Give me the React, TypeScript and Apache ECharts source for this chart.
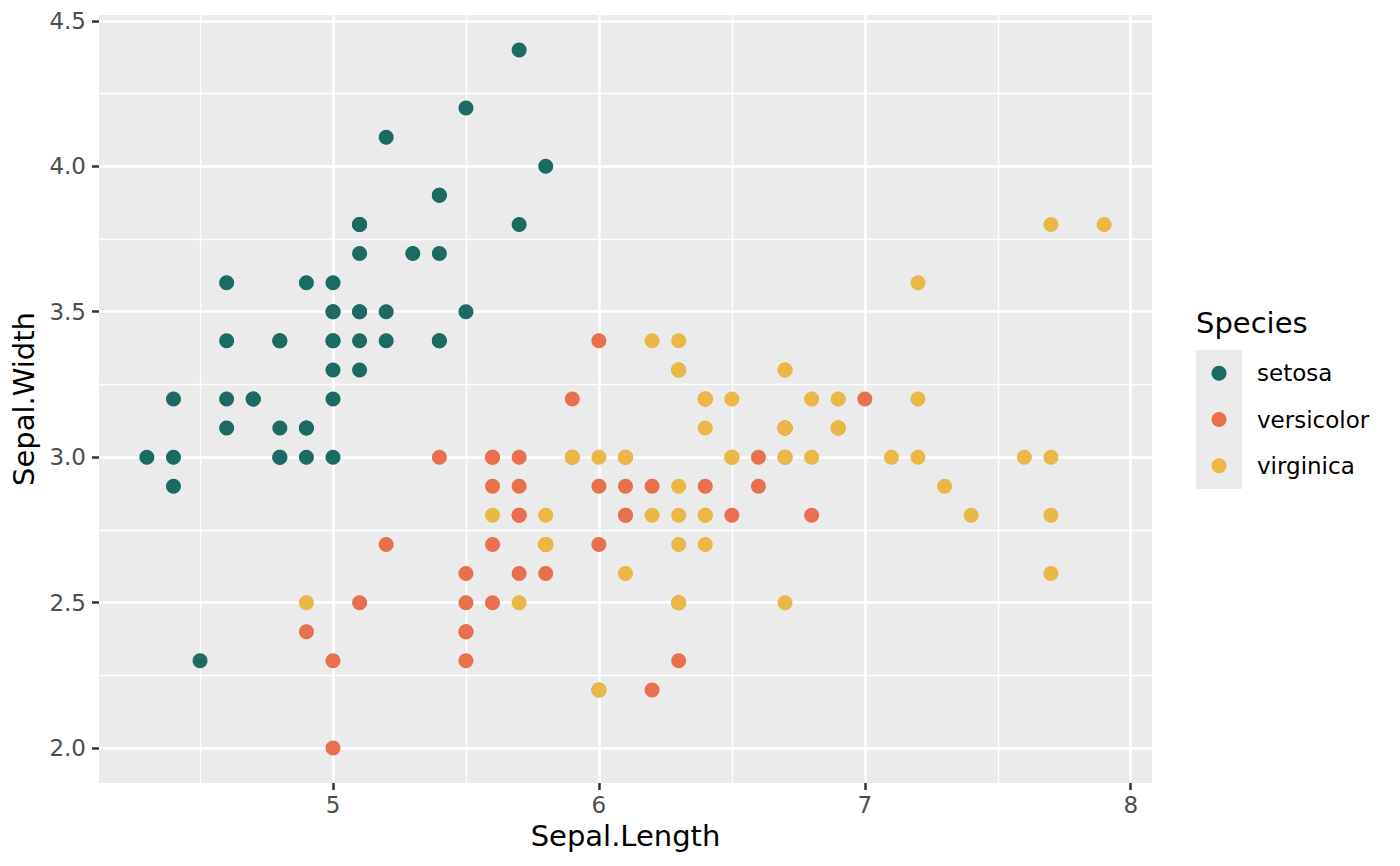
import React, { useEffect, useRef } from "react";
import * as echarts from "echarts";

const species = ["setosa", "versicolor", "virginica"];
const colors = ["#1B6B64", "#E8704F", "#EAB846"];

const setosaLength = [5.1, 4.9, 4.7, 4.6, 5.0, 5.4, 4.6, 5.0, 4.4, 4.9, 5.4, 4.8, 4.8, 4.3, 5.8, 5.7, 5.4, 5.1, 5.7, 5.1, 5.4, 5.1, 4.6, 5.1, 4.8, 5.0, 5.0, 5.2, 5.2, 4.7, 4.8, 5.4, 5.2, 5.5, 4.9, 5.0, 5.5, 4.9, 4.4, 5.1, 5.0, 4.5, 4.4, 5.0, 5.1, 4.8, 5.1, 4.6, 5.3, 5.0];
const setosaWidth = [3.5, 3.0, 3.2, 3.1, 3.6, 3.9, 3.4, 3.4, 2.9, 3.1, 3.7, 3.4, 3.0, 3.0, 4.0, 4.4, 3.9, 3.5, 3.8, 3.8, 3.4, 3.7, 3.6, 3.3, 3.4, 3.0, 3.4, 3.5, 3.4, 3.2, 3.1, 3.4, 4.1, 4.2, 3.1, 3.2, 3.5, 3.6, 3.0, 3.4, 3.5, 2.3, 3.2, 3.5, 3.8, 3.0, 3.8, 3.2, 3.7, 3.3];

const versicolorLength = [7.0, 6.4, 6.9, 5.5, 6.5, 5.7, 6.3, 4.9, 6.6, 5.2, 5.0, 5.9, 6.0, 6.1, 5.6, 6.7, 5.6, 5.8, 6.2, 5.6, 5.9, 6.1, 6.3, 6.1, 6.4, 6.6, 6.8, 6.7, 6.0, 5.7, 5.5, 5.5, 5.8, 6.0, 5.4, 6.0, 6.7, 6.3, 5.6, 5.5, 5.5, 6.1, 5.8, 5.0, 5.6, 5.7, 5.7, 6.2, 5.1, 5.7];
const versicolorWidth = [3.2, 3.2, 3.1, 2.3, 2.8, 2.8, 3.3, 2.4, 2.9, 2.7, 2.0, 3.0, 2.2, 2.9, 2.9, 3.1, 3.0, 2.7, 2.2, 2.5, 3.2, 2.8, 2.5, 2.8, 2.9, 3.0, 2.8, 3.0, 2.9, 2.6, 2.4, 2.4, 2.7, 2.7, 3.0, 3.4, 3.1, 2.3, 3.0, 2.5, 2.6, 3.0, 2.6, 2.3, 2.7, 3.0, 2.9, 2.9, 2.5, 2.8];

const virginicaLength = [6.3, 5.8, 7.1, 6.3, 6.5, 7.6, 4.9, 7.3, 6.7, 7.2, 6.5, 6.4, 6.8, 5.7, 5.8, 6.4, 6.5, 7.7, 7.7, 6.0, 6.9, 5.6, 7.7, 6.3, 6.7, 7.2, 6.2, 6.1, 6.4, 7.2, 7.4, 7.9, 6.4, 6.3, 6.1, 7.7, 6.3, 6.4, 6.0, 6.9, 6.7, 6.9, 5.8, 6.8, 6.7, 6.7, 6.3, 6.5, 6.2, 5.9];
const virginicaWidth = [3.3, 2.7, 3.0, 2.9, 3.0, 3.0, 2.5, 2.9, 2.5, 3.6, 3.2, 2.7, 3.0, 2.5, 2.8, 3.2, 3.0, 3.8, 2.6, 2.2, 3.2, 2.8, 2.8, 2.7, 3.3, 3.2, 2.8, 3.0, 2.8, 3.0, 2.8, 3.8, 2.8, 2.8, 2.6, 3.0, 3.4, 3.1, 3.0, 3.1, 3.1, 3.1, 2.7, 3.2, 3.3, 3.0, 2.5, 3.0, 3.4, 3.0];

const xMajor = [5, 6, 7, 8];
const xMinor = [4.5, 5.5, 6.5, 7.5];
const yMajor = [2.0, 2.5, 3.0, 3.5, 4.0, 4.5];
const yMinor = [2.25, 2.75, 3.25, 3.75, 4.25];
const xRange = [4.12, 8.08];
const yRange = [1.88, 4.52];

const FONT = "DejaVu Sans";

export default function App() {
  const ref = useRef<HTMLDivElement>(null);

  useEffect(() => {
    if (!ref.current) return;
    const chart = echarts.init(ref.current, undefined, { renderer: "svg" });

    const lengths = [setosaLength, versicolorLength, virginicaLength];
    const widths = [setosaWidth, versicolorWidth, virginicaWidth];

    const pointSeries = species.map((name, i) => ({
      type: "scatter",
      name,
      z: 5,
      symbol: "circle",
      symbolSize: 15,
      itemStyle: { color: colors[i], opacity: 1 },
      data: lengths[i].map((x, j) => [x, widths[i][j]]),
    }));

    const gridSeries = {
      type: "scatter",
      name: "grid",
      z: 1,
      data: [],
      silent: true,
      markLine: {
        silent: true,
        symbol: ["none", "none"],
        label: { show: false },
        animation: false,
        data: [
          ...xMinor.map((v) => ({ xAxis: v, lineStyle: { color: "#FFFFFF", width: 1.3, type: "solid" } })),
          ...yMinor.map((v) => ({ yAxis: v, lineStyle: { color: "#FFFFFF", width: 1.3, type: "solid" } })),
          ...xMajor.map((v) => ({ xAxis: v, lineStyle: { color: "#FFFFFF", width: 2.6, type: "solid" } })),
          ...yMajor.map((v) => ({ yAxis: v, lineStyle: { color: "#FFFFFF", width: 2.6, type: "solid" } })),
        ],
      },
    };

    const legendGraphics: any[] = [
      {
        type: "text",
        left: 1196,
        top: 308,
        style: { text: "Species", font: `29px "${FONT}"`, fill: "#000000" },
      },
      {
        type: "rect",
        shape: { x: 1196, y: 350, width: 46, height: 139 },
        style: { fill: "#EBEBEB" },
      },
    ];
    species.forEach((name, i) => {
      const cy = 373.3 + i * 46.2;
      legendGraphics.push({
        type: "circle",
        shape: { cx: 1219, cy, r: 7.5 },
        style: { fill: colors[i] },
      });
      legendGraphics.push({
        type: "text",
        x: 1257,
        y: cy,
        style: {
          text: name,
          font: `23px "${FONT}"`,
          fill: "#000000",
          verticalAlign: "middle",
          align: "left",
        },
      });
    });

    chart.setOption({
      animation: false,
      backgroundColor: "#FFFFFF",
      textStyle: { fontFamily: FONT },
      grid: {
        left: 99,
        right: 248,
        top: 15,
        bottom: 83,
        show: true,
        backgroundColor: "#EBEBEB",
        borderWidth: 0,
        containLabel: false,
        outerBoundsMode: "none",
      },
      xAxis: {
        type: "value",
        min: xRange[0],
        max: xRange[1],
        name: "Sepal.Length",
        nameLocation: "middle",
        nameGap: 38,
        nameTextStyle: { fontSize: 29, color: "#000000", fontFamily: FONT },
        axisLine: { show: false },
        splitLine: { show: false },
        axisTick: {
          show: true,
          length: 7,
          lineStyle: { color: "#333333", width: 2.5 },
          customValues: xMajor,
        },
        axisLabel: {
          show: true,
          margin: 10,
          fontSize: 23,
          color: "#4D4D4D",
          fontFamily: FONT,
          customValues: xMajor,
          formatter: (v: number) => String(Math.round(v)),
        },
      },
      yAxis: {
        type: "value",
        min: yRange[0],
        max: yRange[1],
        name: "Sepal.Width",
        nameLocation: "middle",
        nameGap: 56,
        nameTextStyle: { fontSize: 29, color: "#000000", fontFamily: FONT },
        axisLine: { show: false },
        splitLine: { show: false },
        axisTick: {
          show: true,
          length: 7,
          lineStyle: { color: "#333333", width: 2.5 },
          customValues: yMajor,
        },
        axisLabel: {
          show: true,
          margin: 13,
          fontSize: 23,
          color: "#4D4D4D",
          fontFamily: FONT,
          customValues: yMajor,
          formatter: (v: number) => v.toFixed(1),
        },
      },
      graphic: legendGraphics,
      series: [gridSeries, ...pointSeries],
    } as any);

    return () => chart.dispose();
  }, []);

  return (
    <div
      ref={ref}
      style={{ position: "absolute", left: 0, top: 0, width: 1400, height: 866 }}
    />
  );
}
